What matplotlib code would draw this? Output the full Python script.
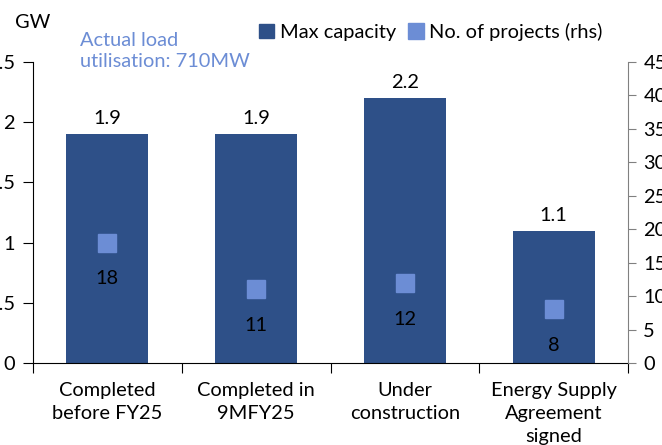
import matplotlib.pyplot as plt
from matplotlib.lines import Line2D
from matplotlib.patches import Patch
import numpy as np

categories = ["Completed\nbefore FY25", "Completed in\n9MFY25", "Under\nconstruction",
              "Energy Supply\nAgreement\nsigned"]
capacity_gw = [1.9, 1.9, 2.2, 1.1]
projects = [18, 11, 12, 8]
left_ticks = [0, 0.5, 1, 1.5, 2, 2.5]
left_labels = ["0", "0.5", "1", "1.5", "2", "2.5"]
right_ticks = [0, 5, 10, 15, 20, 25, 30, 35, 40, 45]

bar_color = "#2E5088"
dot_color = "#6C8DD5"

plt.rcParams['font.family'] = ['Lato', 'DejaVu Sans']
plt.rcParams['font.size'] = 14.4

fig = plt.figure(figsize=(6.62, 4.45), dpi=100)
ax = fig.add_axes([33/662, 1 - 363/445, 595/662, 301/445])
x = np.arange(len(categories))

ax.bar(x, capacity_gw, width=0.55, color=bar_color, zorder=2)
for xi, v in zip(x, capacity_gw):
    ax.annotate(f"{v:.1f}", (xi, v), xytext=(0, 5), textcoords="offset points",
                ha="center", va="bottom", color="black")

ax.set_xlim(-0.5, len(categories) - 0.5)
ax.set_ylim(0, 2.5)
ax.set_yticks(left_ticks)
ax.set_yticklabels(left_labels)
ax.set_xticks(x)
ax.set_xticklabels(categories, linespacing=1.4)
ax.set_xticks(np.arange(-0.5, len(categories)), minor=True)
ax.tick_params(axis="x", which="major", length=0, pad=14)
ax.tick_params(axis="x", which="minor", length=7, width=0.8, direction="out")
ax.tick_params(axis="y", length=7, width=0.8, pad=6)
for s in ["top", "right"]:
    ax.spines[s].set_visible(False)
ax.spines["left"].set_linewidth(0.8)
ax.spines["bottom"].set_linewidth(0.8)

ax2 = ax.twinx()
ax2.set_ylim(0, 45)
ax2.set_yticks(right_ticks)
ax2.plot(x, projects, linestyle="none", marker="s", markersize=13,
         color=dot_color, zorder=3)
for xi, v in zip(x, projects):
    ax2.annotate(str(v), (xi, v), xytext=(0, -20), textcoords="offset points",
                 ha="center", va="top", color="black")
ax2.tick_params(axis="y", length=6, width=0.8, pad=5, color="#808080")
for s in ["top", "left", "bottom"]:
    ax2.spines[s].set_visible(False)
ax2.spines["right"].set_color("#808080")
ax2.spines["right"].set_linewidth(0.8)

fig.text(15/662, 1 - 22/445, "GW", ha="left", va="center")
fig.text(80/662, 1 - 51/445, "Actual load\nutilisation: 710MW", ha="left", va="center",
         color=dot_color, linespacing=1.35)

handles = [Patch(color=bar_color),
           Line2D([], [], linestyle="none", marker="s", markersize=12, color=dot_color)]
fig.legend(handles, ["Max capacity", "No. of projects (rhs)"], ncol=2,
           loc="center left", bbox_to_anchor=(259/662, 1 - 32/445), frameon=False,
           handlelength=0.75, handleheight=0.75, handletextpad=0.3, columnspacing=0.6,
           borderpad=0, borderaxespad=0)

fig.savefig("out.png", dpi=100)
